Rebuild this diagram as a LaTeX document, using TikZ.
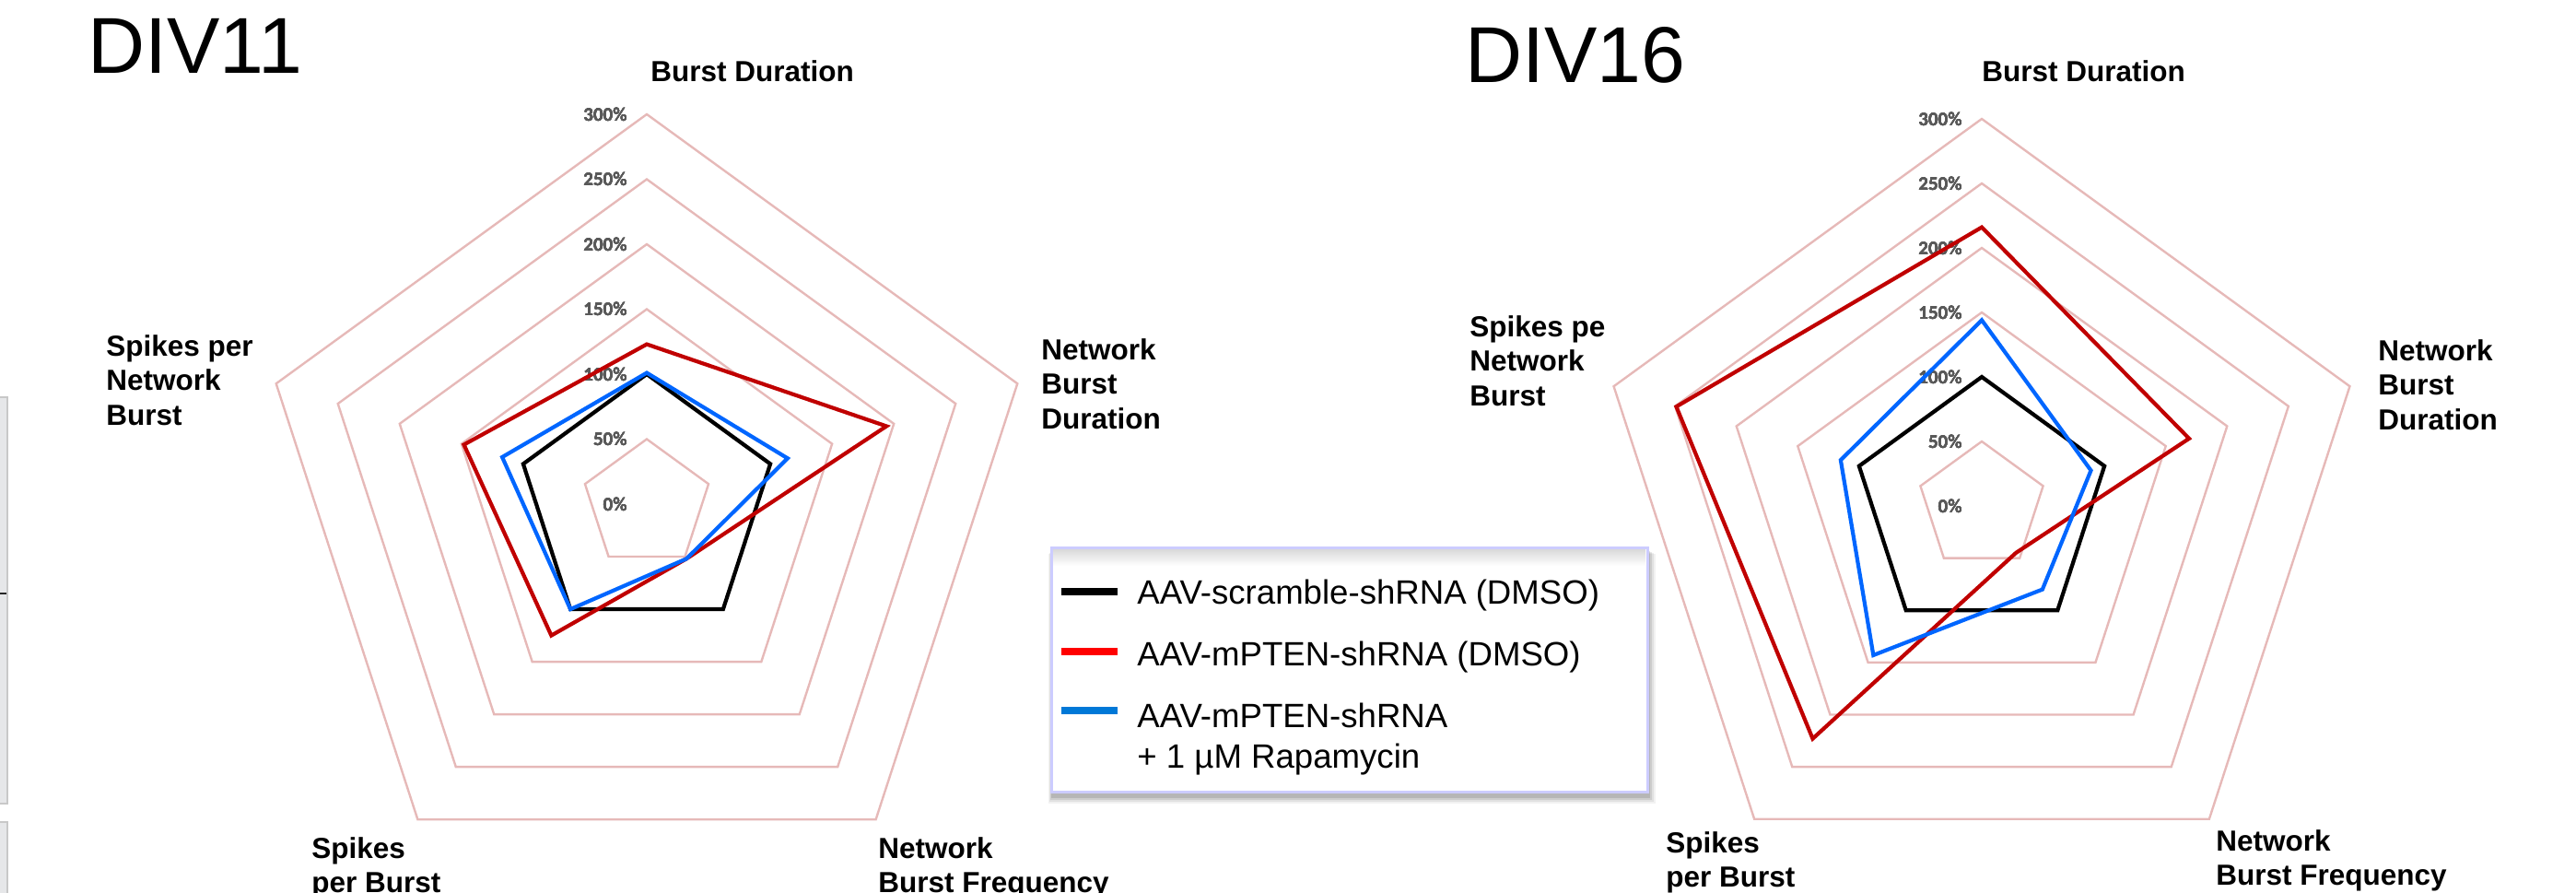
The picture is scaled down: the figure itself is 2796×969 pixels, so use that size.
\documentclass[tikz,border=0pt]{standalone}
\usepackage{fontspec}
\setmainfont{Liberation Sans}
\newfontfamily\tickfont{Carlito}
\usetikzlibrary{calc}

\definecolor{gridpink}{RGB}{230,185,184}
\definecolor{serred}{RGB}{192,0,0}
\definecolor{serblue}{RGB}{0,102,255}
\definecolor{legred}{RGB}{255,0,0}
\definecolor{legblue}{RGB}{0,120,215}
\definecolor{ticgray}{RGB}{89,89,89}
\definecolor{legframe}{RGB}{204,204,255}
\definecolor{panelfill}{RGB}{230,231,233}
\definecolor{panelline}{RGB}{200,200,200}

% one closed polygon over the five radar axes (clockwise from the top)
\newcommand\radarpoly[6]{%
  \draw[#1] (90:#2) -- (18:#3) -- (-54:#4) -- (-126:#5) -- (162:#6) -- cycle;}

\tikzset{
  gridring/.style={draw=gridpink, line width=1.2pt},
  series/.style={line width=2.1pt},
  ticklab/.style={anchor=east, xshift=-10.5pt, inner sep=0pt, text=ticgray,
    font=\tickfont\bfseries\fontsize{10.5}{12}\selectfont},
  axislab/.style={anchor=north west, inner sep=0pt, align=left,
    font=\bfseries\fontsize{15.75}{18.75}\selectfont},
  titlelab/.style={anchor=base west, inner sep=0pt,
    font=\fontsize{43}{43}\selectfont},
  legtext/.style={anchor=base west, inner sep=0pt,
    font=\fontsize{18.3}{22}\selectfont},
  legline/.style={line width=4pt},
}

\begin{document}
\begin{tikzpicture}[x=0.5pt, y=0.5pt]
\useasboundingbox (0,0) rectangle (2796,969);

% strips of the neighbouring panel at the left edge
\draw[fill=panelfill, draw=panelline, line width=1pt] (-4,97) rectangle (7.5,538);
\draw[fill=panelfill, draw=panelline, line width=1pt] (-4,-10) rectangle (7.5,77);
\draw[line width=1.2pt, black!85] (0,325) -- (7,325);

% ---------- DIV11 ----------
\node[titlelab] (titleL) at (95,889) {DIV11};
\begin{scope}[shift={(702,422)}, x=0.705pt, y=0.705pt]
  \foreach \r in {50,100,...,300}
    \radarpoly{gridring}{\r}{\r}{\r}{\r}{\r}
  \foreach \r in {0,50,...,300}
    \node[ticklab] (tickL\r) at (0,\r) {\r\%};
  \radarpoly{series, black}{100}{100}{100}{100}{100}
  \radarpoly{series, serred}{123}{194}{52}{125}{148}
  \radarpoly{series, serblue}{101}{114}{52}{100}{117}
\end{scope}
\node[axislab] (labL0) at (706,904) {Burst Duration};
\node[axislab] (labL1) at (1130,602) {Network\\Burst\\Duration};
\node[axislab] (labL2) at (953,61) {Network\\Burst Frequency};
\node[axislab] (labL3) at (338,61) {Spikes\\per Burst};
\node[axislab] (labL4) at (115,606) {Spikes per\\Network\\Burst};

% ---------- DIV16 ----------
\node[titlelab] (titleR) at (1590,879) {DIV16};
\begin{scope}[shift={(2151,420)}, x=0.7pt, y=0.7pt]
  \foreach \r in {50,100,...,300}
    \radarpoly{gridring}{\r}{\r}{\r}{\r}{\r}
  \foreach \r in {0,50,...,300}
    \node[ticklab] (tickR\r) at (0,\r) {\r\%};
  \radarpoly{series, black}{100}{100}{100}{100}{100}
  \radarpoly{series, serred}{216}{169}{45}{223}{249}
  \radarpoly{series, serblue}{144}{89}{80}{143}{115}
\end{scope}
\node[axislab] (labR0) at (2151,904) {Burst Duration};
\node[axislab] (labR1) at (2581,601) {Network\\Burst\\Duration};
\node[axislab] (labR2) at (2405,69) {Network\\Burst Frequency};
\node[axislab] (labR3) at (1808,67) {Spikes\\per Burst};
\node[axislab] (labR4) at (1595,627) {Spikes pe\\Network\\Burst};

% ---------- legend ----------
\foreach \d/\o in {10/0.05, 8/0.07, 6/0.09, 4/0.11}
  \fill[black, opacity=\o] (1140-\d/2+3,108-\d-1) rectangle (1787+\d,373-\d/2);
\fill[white] (1140,108) rectangle (1787,373);
\shade[top color=black!14, bottom color=white] (1141,355) rectangle (1786,372);
\node[draw=legframe, line width=1.5pt, minimum width=323.5pt, minimum height=132.5pt,
  inner sep=0pt, anchor=south west] (legbox) at (1140,108) {};
\draw[legline, black] (1152,327) -- (1213,327);
\draw[legline, legred] (1152,262) -- (1213,262);
\draw[legline, legblue] (1152,198) -- (1213,198);
\node[legtext] (legA) at (1234,313) {AAV-scramble-shRNA (DMSO)};
\node[legtext] (legB) at (1234,246) {AAV-mPTEN-shRNA (DMSO)};
\node[legtext, anchor=north west, align=left] (legC) at (1234,206)
  {AAV-mPTEN-shRNA\\+ 1 µM Rapamycin};
\end{tikzpicture}
\end{document}
